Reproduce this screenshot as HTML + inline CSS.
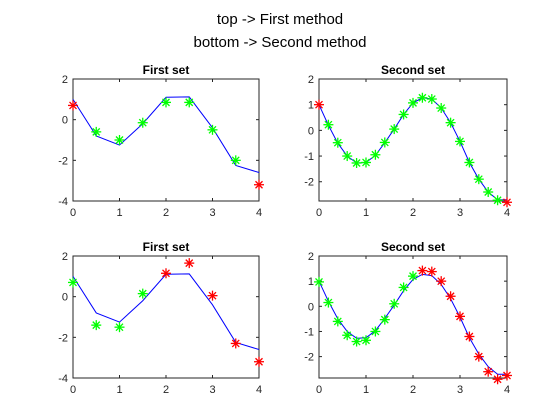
<!DOCTYPE html>
<html><head><meta charset="utf-8"><style>
html,body{margin:0;padding:0;background:#fff;}
svg{display:block;font-family:"Liberation Sans",Arial,sans-serif;}
</style></head><body>
<svg id="fig" width="560" height="420" viewBox="0 0 560 420">
<rect width="560" height="420" fill="#fff"/>
<text x="280" y="24" text-anchor="middle" font-size="15" fill="#000">top -&gt; First method</text>
<text x="280" y="47" text-anchor="middle" font-size="15" fill="#000">bottom -&gt; Second method</text>
</svg>
<script>
const x1 = [0,0.5,1,1.5,2,2.5,3,3.5,4];
const line1 = [1,-0.8,-1.25,-0.2,1.1,1.12,-0.4,-2.25,-2.6];
const topMarks1 = [0.7,-0.6,-1.0,-0.15,0.85,0.85,-0.5,-2.0,-3.2];
const topCols1 = ['r','g','g','g','g','g','g','g','r'];
const botMarks1 = [0.7,-1.4,-1.5,0.15,1.15,1.65,0.05,-2.3,-3.2];
const botCols1 = ['g','g','g','g','r','r','r','r','r'];
const x2 = [0,0.2,0.4,0.6,0.8,1,1.2,1.4,1.6,1.8,2,2.2,2.4,2.6,2.8,3,3.2,3.4,3.6,3.8,4];
const line2 = [1,0.2,-0.5,-1.0,-1.27,-1.25,-0.97,-0.48,0.05,0.62,1.07,1.27,1.22,0.87,0.3,-0.43,-1.25,-1.9,-2.4,-2.7,-2.7];
const topMarks2 = [1,0.22,-0.48,-1.0,-1.27,-1.25,-0.95,-0.47,0.05,0.62,1.07,1.27,1.22,0.87,0.3,-0.43,-1.25,-1.9,-2.4,-2.72,-2.8];
const topCols2 = ['r','g','g','g','g','g','g','g','g','g','g','g','g','g','g','g','g','g','g','g','r'];
const botMarks2 = [0.97,0.15,-0.6,-1.15,-1.4,-1.35,-1.0,-0.53,0.1,0.75,1.2,1.42,1.38,1.0,0.4,-0.4,-1.2,-2.0,-2.6,-2.9,-2.75];
const botCols2 = ['g','g','g','g','g','g','g','g','g','g','g','r','r','r','r','r','r','r','r','r','r'];
const xTicks = [0,1,2,3,4];
const yTicks1 = [-4,-2,0,2];
const yTicks2 = [-2,-1,0,1,2];

const NS='http://www.w3.org/2000/svg';
const svg=document.getElementById('fig');
function mk(tag,attrs,parent){const e=document.createElementNS(NS,tag);for(const k in attrs)e.setAttribute(k,attrs[k]);(parent||svg).appendChild(e);return e;}

function panel(name,L,R,T,B,ymin,ymax,title,xs,ys,mx,my,cols,yt){
  const g=mk('g',{});
  
  
  const sx=v=>L+(v-0)/(4-0)*(R-L);
  const sy=v=>B-(v-ymin)/(ymax-ymin)*(B-T);
  const frame=mk('rect',{x:L,y:T,width:R-L,height:B-T,fill:'#fff',stroke:'#262626','stroke-width':1},g);
  
  
  xTicks.forEach(t=>{
    const X=sx(t);
    mk('line',{x1:X,x2:X,y1:B,y2:B-3,stroke:'#262626'},g);
    mk('line',{x1:X,x2:X,y1:T,y2:T+3,stroke:'#262626'},g);
    const tx=mk('text',{x:X,y:B+15,'text-anchor':'middle','font-size':11,fill:'#262626'},g);
    tx.textContent=t;
    
    
  });
  yt.forEach(t=>{
    const Y=sy(t);
    mk('line',{x1:L,x2:L+3,y1:Y,y2:Y,stroke:'#262626'},g);
    mk('line',{x1:R,x2:R-3,y1:Y,y2:Y,stroke:'#262626'},g);
    const tx=mk('text',{x:L-5,y:Y+4,'text-anchor':'end','font-size':11,fill:'#262626'},g);
    tx.textContent=t;
    
    
  });
  const tt=mk('text',{x:(L+R)/2,y:T-5,'text-anchor':'middle','font-size':12,'font-weight':'bold',fill:'#000'},g);
  tt.textContent=title;
  
  
  const pl=mk('polyline',{points:xs.map((v,i)=>sx(v)+','+sy(ys[i])).join(' '),fill:'none',stroke:'#0000ff','stroke-width':1},g);
  
  
  xs.forEach((v,i)=>{
    const X=sx(v),Y=sy(my[i]),c=cols[i]==='r'?'#ff0000':'#00ff00',s=5,d=3.5;
    const m=mk('g',{stroke:c,'stroke-width':1.3},g);
    
    
    mk('line',{x1:X-s,x2:X+s,y1:Y,y2:Y},m);
    mk('line',{x1:X,x2:X,y1:Y-s,y2:Y+s},m);
    mk('line',{x1:X-d,x2:X+d,y1:Y-d,y2:Y+d},m);
    mk('line',{x1:X-d,x2:X+d,y1:Y+d,y2:Y-d},m);
  });
}
panel('top-left-plot',73,259,79,201,-4,2,'First set',x1,line1,x1,topMarks1,topCols1,yTicks1);
panel('top-right-plot',319,507,79,201,-2.75,2,'Second set',x2,line2,x2,topMarks2,topCols2,yTicks2);
panel('bottom-left-plot',73,259,256,378,-4,2,'First set',x1,line1,x1,botMarks1,botCols1,yTicks1);
panel('bottom-right-plot',319,507,256,378,-2.85,2,'Second set',x2,line2,x2,botMarks2,botCols2,yTicks2);
</script>
</body></html>
